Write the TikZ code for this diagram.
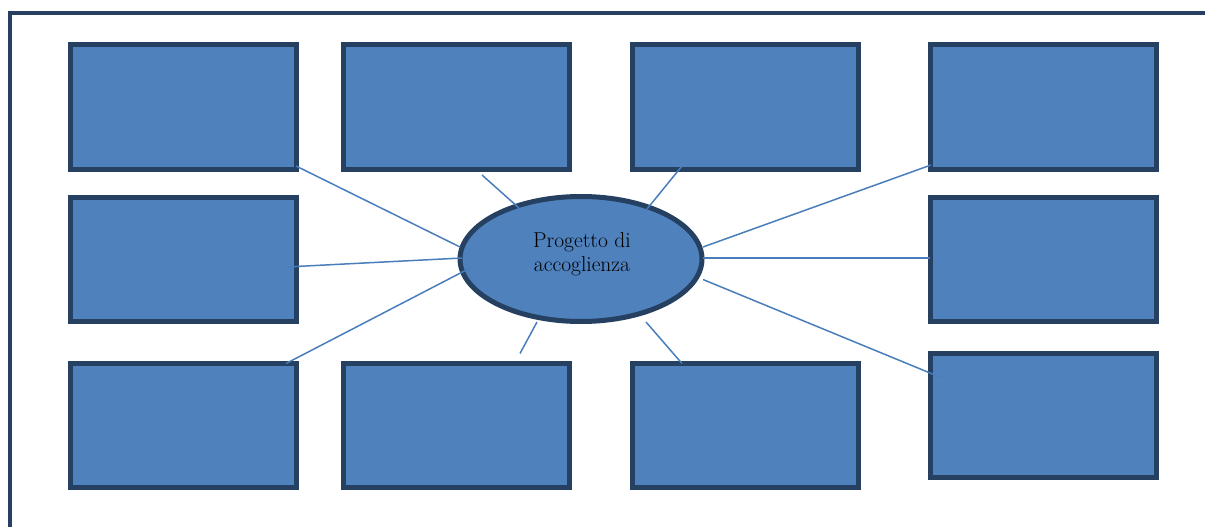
\documentclass[tikz,border=0pt]{standalone}
\usetikzlibrary{shapes.geometric}
\definecolor{boxfill}{HTML}{4F81BD}
\definecolor{boxline}{HTML}{254061}
\definecolor{connc}{HTML}{4A7EBB}
\begin{document}
\begin{tikzpicture}[x=1pt,y=-1pt,
  box/.style={draw=boxline,fill=boxfill,line width=5pt,minimum width=226pt,minimum height=124pt,inner sep=0pt},
  hub/.style={ellipse,draw=boxline,fill=boxfill,line width=5pt,minimum width=242pt,minimum height=125pt,inner sep=0pt},
  hubtext/.style={font=\fontsize{21.5}{24}\selectfont,align=center,inner sep=0pt},
  conn/.style={draw=connc,line width=1.5pt},
  frame/.style={draw=boxline,line width=4.5pt}]
\useasboundingbox (0,0) rectangle (1205,527);
\coordinate (fA) at (10,530);
\coordinate (fB) at (10,13);
\coordinate (fC) at (1208,13);
\draw[frame] (fA) -- (fB) -- (fC);
% boxes
\node[box] (b11) at (183,107) {};
\node[box] (b12) at (456.5,107) {};
\node[box] (b13) at (745,107) {};
\node[box] (b14) at (1043,107) {};
\node[box] (b21) at (183,259) {};
\node[box] (b24) at (1043,259) {};
\node[box] (b31) at (183,425) {};
\node[box] (b32) at (456.5,425) {};
\node[box] (b33) at (745,425) {};
\node[box] (b34) at (1043,415) {};
% hub
\node[hub] (hub) at (581,259) {};
\node[hubtext] (hubt) at (582,254) {Progetto di\\accoglienza};
% connector ends
\coordinate (c1a) at (296,166);   \coordinate (c1b) at (460,247);
\coordinate (c2a) at (286,267);   \coordinate (c2b) at (462,258);
\coordinate (c3a) at (286,363.5); \coordinate (c3b) at (472,267);
\coordinate (c4a) at (482,175);   \coordinate (c4b) at (519,208);
\coordinate (c5a) at (682,166);   \coordinate (c5b) at (647,209);
\coordinate (c6a) at (931,165);   \coordinate (c6b) at (703,247);
\coordinate (c7a) at (930,258);   \coordinate (c7b) at (703,258);
\coordinate (c8a) at (941,377.5); \coordinate (c8b) at (703,279.5);
\coordinate (c9a) at (520,353.5); \coordinate (c9b) at (537,322);
\coordinate (c10a) at (682,363.5);\coordinate (c10b) at (646,322);
\draw[conn] (c1a) -- (c1b);
\draw[conn] (c2a) -- (c2b);
\draw[conn] (c3a) -- (c3b);
\draw[conn] (c4a) -- (c4b);
\draw[conn] (c5a) -- (c5b);
\draw[conn] (c6a) -- (c6b);
\draw[conn] (c7a) -- (c7b);
\draw[conn] (c8a) -- (c8b);
\draw[conn] (c9a) -- (c9b);
\draw[conn] (c10a) -- (c10b);
\end{tikzpicture}
\end{document}
